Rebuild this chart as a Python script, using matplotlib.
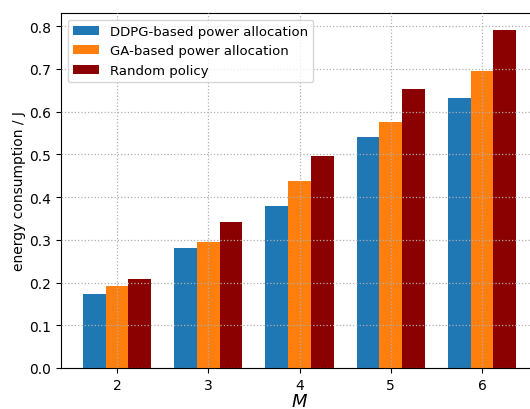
import numpy as np
import matplotlib
matplotlib.use("Agg")
import matplotlib.pyplot as plt

# number of users
M = [2, 3, 4, 5, 6]
ddpg = [0.173, 0.281, 0.379, 0.540, 0.632]
ga = [0.192, 0.295, 0.437, 0.575, 0.695]
rand = [0.208, 0.342, 0.496, 0.653, 0.791]
labels = ["DDPG-based power allocation", "GA-based power allocation", "Random policy"]

fig = plt.figure(figsize=(5.3, 4.1), dpi=100)
# axes runs a bit past the right edge, like the cropped original
ax = fig.add_axes([61 / 530, 41 / 410, 477 / 530, 355 / 410])

x = np.array(M, dtype=float)
w = 0.25
ax.bar(x - w, ddpg, w, color="#1f77b4", label=labels[0], zorder=2)
ax.bar(x, ga, w, color="#ff7f0e", label=labels[1], zorder=2)
ax.bar(x + w, rand, w, color="#8b0000", label=labels[2], zorder=2)

ax.set_xticks(M)
ax.set_yticks(np.arange(0, 0.81, 0.1))
ax.grid(True, linestyle=":", color="#b0b0b0", linewidth=0.9, zorder=3)
ax.set_axisbelow(False)
ax.set_xlabel("$M$", fontsize=13, labelpad=0)
ax.set_ylabel("energy consumption / J", fontsize=10, labelpad=2)
ax.tick_params(labelsize=10)
ax.legend(loc="upper left", fontsize=9.5)

fig.savefig("out.png", dpi=100)
